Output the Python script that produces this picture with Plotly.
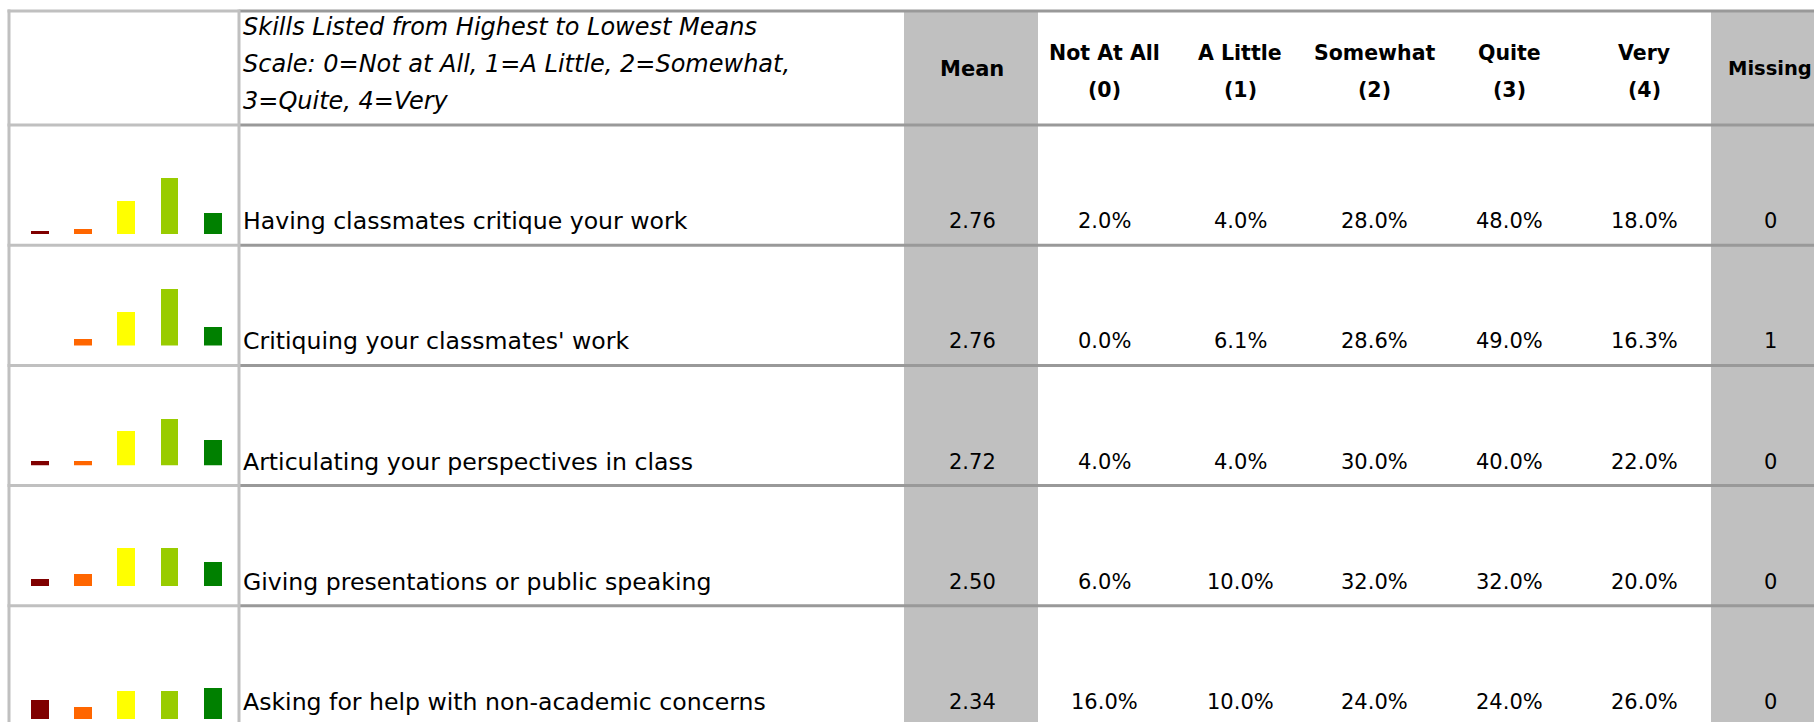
import plotly.graph_objects as go

# ---------------- data ----------------
skills = [
    "Having classmates critique your work",
    "Critiquing your classmates' work",
    "Articulating your perspectives in class",
    "Giving presentations or public speaking",
    "Asking for help with non-academic concerns",
]
means = [2.76, 2.76, 2.72, 2.50, 2.34]
not_at_all = [2.0, 0.0, 4.0, 6.0, 16.0]
a_little = [4.0, 6.1, 4.0, 10.0, 10.0]
somewhat = [28.0, 28.6, 30.0, 32.0, 24.0]
quite = [48.0, 49.0, 40.0, 32.0, 24.0]
very = [18.0, 16.3, 22.0, 20.0, 26.0]
missing = [0, 1, 0, 0, 0]

scale_levels = ["Not At All (0)", "A Little (1)", "Somewhat (2)", "Quite (3)", "Very (4)"]
col_headers = [["Mean"], ["Not At All", "(0)"], ["A Little", "(1)"], ["Somewhat", "(2)"],
               ["Quite", "(3)"], ["Very", "(4)"], ["Missing"]]
header_lines = [
    "Skills Listed from Highest to Lowest Means",
    "Scale: 0=Not at All, 1=A Little, 2=Somewhat,",
    "3=Quite, 4=Very",
]

# ---------------- styling / layout ----------------
W, H = 1814, 722
FONT = "DejaVu Sans"
bar_colors = ["#800000", "#FF6600", "#FFFF00", "#99CC00", "#008000"]
LIGHT = "#C0C0C0"
DARK = "#999999"
FILL = "#C0C0C0"

TABLE_TOP = 11
HEADER_BOTTOM = 125
ROW_H = 120.2
LEFT = 9
DIV1 = 239
MEAN_X0, MEAN_X1 = 904, 1038
MISS_X0 = 1711
col_centers = [972, 1104, 1240, 1374, 1509, 1644, 1770]
header_sizes = [21, 20.5, 20.5, 20.5, 20.5, 20.5, 19.5]
spark_base_offset = [11.3, 19.8, 20.3, 19.8, 7.0]   # bar baseline above row bottom (px)
PX_PER_PCT = 1.16
SPARK_X0, SPARK_X1 = 18.4, 234.8
Y_MAX = 60.0


def px(x):
    return x / W


def py(y):
    return 1 - y / H


fig = go.Figure()
layout_axes = {}

pct_cols = [not_at_all, a_little, somewhat, quite, very]
n = len(skills)
row_bottoms = [HEADER_BOTTOM + ROW_H * (i + 1) for i in range(n)]

for i in range(n):
    k = i + 2
    vals = [c[i] for c in pct_cols]
    fig.add_trace(go.Bar(
        x=list(range(5)), y=vals, marker=dict(color=bar_colors, line=dict(width=0)),
        width=0.415, xaxis=f"x{k}", yaxis=f"y{k}", showlegend=False,
        hovertext=scale_levels, hoverinfo="text+y",
    ))
    base = row_bottoms[i] - spark_base_offset[i]
    top = base - Y_MAX * PX_PER_PCT
    layout_axes[f"xaxis{k}"] = dict(domain=[px(SPARK_X0), px(SPARK_X1)], range=[-0.5, 4.5],
                                    visible=False, anchor=f"y{k}", fixedrange=True)
    layout_axes[f"yaxis{k}"] = dict(domain=[py(base), py(top)], range=[0, Y_MAX],
                                    visible=False, anchor=f"x{k}", fixedrange=True)

shapes = []
# gray columns
for x0, x1 in [(MEAN_X0, MEAN_X1), (MISS_X0, W + 5)]:
    shapes.append(dict(type="rect", xref="paper", yref="paper", x0=px(x0), x1=px(x1),
                       y0=py(H + 5), y1=py(TABLE_TOP), fillcolor=FILL, line=dict(width=0),
                       layer="below"))
# horizontal lines
h_lines = [TABLE_TOP, HEADER_BOTTOM] + row_bottoms
for y in h_lines:
    shapes.append(dict(type="line", xref="paper", yref="paper", x0=px(LEFT - 1.5), x1=px(DIV1),
                       y0=py(y), y1=py(y), line=dict(color=LIGHT, width=3)))
    shapes.append(dict(type="line", xref="paper", yref="paper", x0=px(DIV1), x1=px(W + 5),
                       y0=py(y), y1=py(y), line=dict(color=DARK, width=3)))
# vertical lines
for x in [LEFT, DIV1]:
    shapes.append(dict(type="line", xref="paper", yref="paper", x0=px(x), x1=px(x),
                       y0=py(TABLE_TOP - 1.5), y1=py(H + 5), line=dict(color=LIGHT, width=3)))

annotations = []
# italic header text
header_y = [27, 64, 101]
for t, y in zip(header_lines, header_y):
    annotations.append(dict(text=t, x=px(241), y=py(y), xref="paper", yref="paper",
                            xanchor="left", yanchor="middle", showarrow=False,
                            font=dict(family=FONT, size=24, color="#000", style="italic")))
# column headers
for lines, cx, fs in zip(col_headers, col_centers, header_sizes):
    ys = [69] if len(lines) == 1 else [53, 90]
    for t, y in zip(lines, ys):
        annotations.append(dict(text=t, x=px(cx), y=py(y), xref="paper", yref="paper",
                                xanchor="center", yanchor="middle", showarrow=False,
                                font=dict(family=FONT, size=fs, color="#000", weight="bold")))
# body
for i in range(n):
    yc = row_bottoms[i] - 24
    annotations.append(dict(text=skills[i], x=px(241), y=py(yc), xref="paper", yref="paper",
                            xanchor="left", yanchor="middle", showarrow=False,
                            font=dict(family=FONT, size=23.6, color="#000")))
    cells = [f"{means[i]:.2f}"] + [f"{c[i]:.1f}%" for c in pct_cols] + [str(missing[i])]
    for t, cx in zip(cells, col_centers):
        annotations.append(dict(text=t, x=px(cx), y=py(yc), xref="paper", yref="paper",
                                xanchor="center", yanchor="middle", showarrow=False,
                                font=dict(family=FONT, size=21, color="#000")))

fig.update_layout(
    width=W, height=H, margin=dict(l=0, r=0, t=0, b=0, pad=0),
    paper_bgcolor="white", plot_bgcolor="rgba(0,0,0,0)",
    xaxis=dict(visible=False, domain=[0, 1]), yaxis=dict(visible=False, domain=[0, 1]),
    shapes=shapes, annotations=annotations, bargap=0, **layout_axes,
)

fig.write_html("out.html", config={"displayModeBar": False},
               post_script="document.body.style.margin='0';document.body.style.overflow='hidden';")
